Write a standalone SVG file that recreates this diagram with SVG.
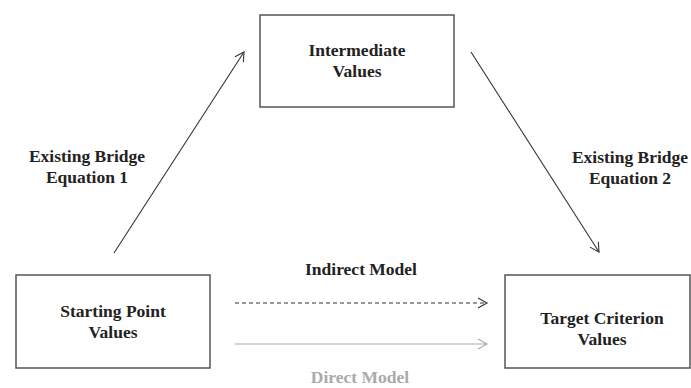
<svg xmlns="http://www.w3.org/2000/svg" width="691" height="388" viewBox="0 0 691 388">
<style>
.box{fill:#fff;stroke:#555;stroke-width:1.5}
.t{font-family:"Liberation Serif","Times New Roman",serif;font-weight:bold;font-size:17.5px;fill:#222;text-anchor:middle}
.g{fill:#aaa}
.ln{fill:none;stroke:#333;stroke-width:1.1}
</style>
<defs>
<marker id="ah" markerWidth="12" markerHeight="12" refX="10" refY="6" orient="auto" markerUnits="userSpaceOnUse">
<path d="M1,1 L10,6 L1,11" fill="none" stroke="#333" stroke-width="1.1"/>
</marker>
<marker id="ahg" markerWidth="12" markerHeight="12" refX="10" refY="6" orient="auto" markerUnits="userSpaceOnUse">
<path d="M1,1 L10,6 L1,11" fill="none" stroke="#aaa" stroke-width="1.1"/>
</marker>
</defs>
<rect width="691" height="388" fill="#fff"/>
<g id="connectors">
<line class="ln" x1="114" y1="253" x2="244" y2="52" marker-end="url(#ah)"/>
<line class="ln" x1="471" y1="52" x2="599" y2="252" marker-end="url(#ah)"/>
<line class="ln" x1="235" y1="303" x2="487" y2="303" stroke-dasharray="4,3" marker-end="url(#ah)"/>
<line class="ln" x1="235" y1="344" x2="487" y2="344" style="stroke:#aaa" marker-end="url(#ahg)"/>
<text class="t" x="87" y="162">Existing Bridge</text>
<text class="t" x="87" y="183">Equation 1</text>
<text class="t" x="630" y="163">Existing Bridge</text>
<text class="t" x="630" y="184">Equation 2</text>
<text class="t" x="361" y="275">Indirect Model</text>
<text class="t g" x="360" y="383">Direct Model</text>
</g>
<g id="intermediate">
<rect class="box" x="260" y="15" width="194" height="92"/>
<text class="t" x="357" y="56">Intermediate</text>
<text class="t" x="357" y="77">Values</text>
</g>
<g id="starting">
<rect class="box" x="16" y="275" width="194" height="93"/>
<text class="t" x="113" y="317">Starting Point</text>
<text class="t" x="113" y="338">Values</text>
</g>
<g id="target">
<rect class="box" x="505" y="275" width="185" height="93"/>
<text class="t" x="602" y="324">Target Criterion</text>
<text class="t" x="602" y="345">Values</text>
</g>
</svg>
